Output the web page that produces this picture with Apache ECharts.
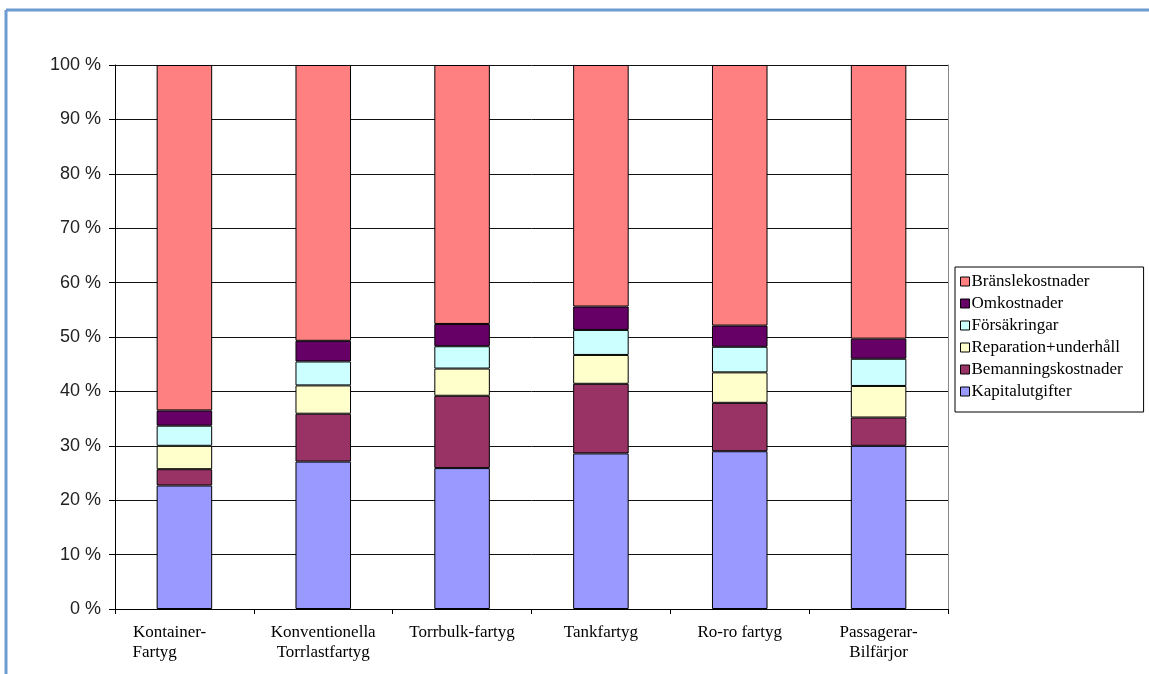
<!DOCTYPE html>
<html>
<head>
<meta charset="utf-8">
<script src="https://cdn.jsdelivr.net/npm/echarts@6/dist/echarts.min.js"></script>
<style>html,body{margin:0;padding:0;background:#fff}#c{width:1149px;height:674px}</style>
</head>
<body>
<div id="c"></div>
<script>
const categories = ['Kontainer-       \nFartyg              ', 'Konventionella\nTorrlastfartyg', 'Torrbulk-fartyg', 'Tankfartyg', 'Ro-ro fartyg', 'Passagerar-\nBilfärjor'];
const kapitalutgifter = [22.7, 27.1, 25.9, 28.6, 29.0, 30.0];
const bemanningskostnader = [3.0, 8.8, 13.3, 12.8, 8.9, 5.2];
const reparation = [4.3, 5.2, 5.0, 5.3, 5.6, 5.8];
const forsakringar = [3.7, 4.4, 4.1, 4.6, 4.7, 5.0];
const omkostnader = [2.8, 3.8, 4.1, 4.3, 3.9, 3.7];
const branslekostnader = [63.5, 50.7, 47.6, 44.4, 47.9, 50.3];
const yTicks = [0, 10, 20, 30, 40, 50, 60, 70, 80, 90, 100];

const seriesDefs = [
  ['Kapitalutgifter', kapitalutgifter, '#9999FF'],
  ['Bemanningskostnader', bemanningskostnader, '#993366'],
  ['Reparation+underhåll', reparation, '#FFFFCC'],
  ['Försäkringar', forsakringar, '#CCFFFF'],
  ['Omkostnader', omkostnader, '#660066'],
  ['Bränslekostnader', branslekostnader, '#FF8080']
];

const chart = echarts.init(document.getElementById('c'));
chart.setOption({
  animation: false,
  backgroundColor: '#fff',
  graphic: [
    { type: 'line', shape: { x1: 6, y1: 10, x2: 1149, y2: 10 }, style: { stroke: '#6F9BD3', lineWidth: 3 } },
    { type: 'line', shape: { x1: 6, y1: 10, x2: 6, y2: 674 }, style: { stroke: '#6F9BD3', lineWidth: 3 } }
  ],
  grid: { left: 115, right: 201, top: 65, bottom: 65 },
  legend: {
    orient: 'vertical',
    left: 955, top: 267,
    data: seriesDefs.map(s => s[0]).slice().reverse(),
    itemWidth: 9, itemHeight: 9, itemGap: 5,
    padding: [6, 21, 12, 5],
    borderColor: '#000', borderWidth: 1,
    icon: 'rect',
    itemStyle: { borderColor: '#000', borderWidth: 1 },
    textStyle: { fontFamily: 'Liberation Serif', fontSize: 17, color: '#000', padding: [0, 0, 0, -3] }
  },
  xAxis: {
    type: 'category',
    data: categories,
    axisLine: { lineStyle: { color: '#000', width: 1 } },
    axisTick: { show: true, length: 5, lineStyle: { color: '#000' } },
    axisLabel: { fontFamily: 'Liberation Serif', fontSize: 17, color: '#000', margin: 14, lineHeight: 20, interval: 0 }
  },
  yAxis: [{
    type: 'value', min: yTicks[0], max: yTicks[yTicks.length - 1], interval: 10,
    axisLine: { show: true, lineStyle: { color: '#000' } },
    axisTick: { show: true, length: 6, lineStyle: { color: '#000' } },
    axisLabel: { formatter: '{value} %', fontFamily: 'Liberation Sans', fontSize: 18, color: '#222', margin: 14 },
    splitLine: { show: true, lineStyle: { color: '#111', width: 1 } }
  }, {
    type: 'value', position: 'right', min: 0, max: 100,
    axisLine: { show: true, lineStyle: { color: '#888' } },
    axisTick: { show: false }, axisLabel: { show: false }, splitLine: { show: false }
  }],
  series: seriesDefs.map(([name, data, color]) => ({
    name, type: 'bar', stack: 'total', data,
    barCategoryGap: '60%',
    itemStyle: { color, borderColor: '#000', borderWidth: 1 }
  }))
});
</script>
</body>
</html>
